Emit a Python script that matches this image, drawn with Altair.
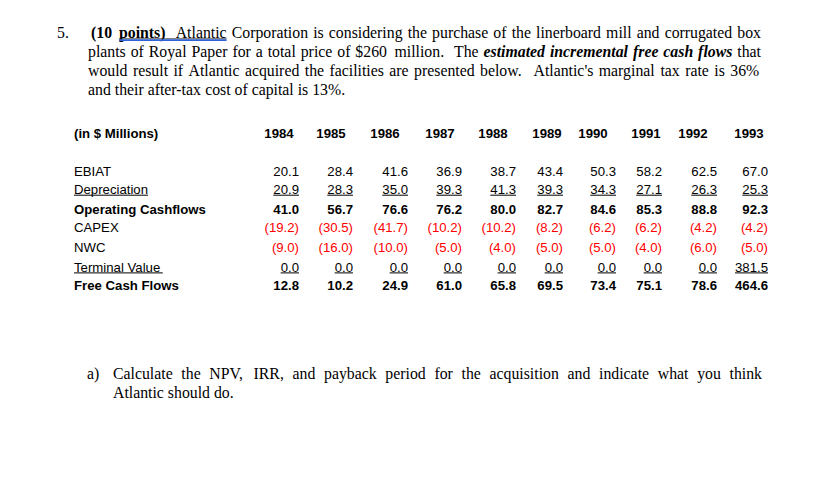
import altair as alt
import pandas as pd

# ---------------- data ----------------
years = ["1984", "1985", "1986", "1987", "1988", "1989", "1990", "1991", "1992", "1993"]
row_labels = ["EBIAT", "Depreciation", "Operating Cashflows", "CAPEX", "NWC",
              "Terminal Value", "Free Cash Flows"]
ebiat = [20.1, 28.4, 41.6, 36.9, 38.7, 43.4, 50.3, 58.2, 62.5, 67.0]
depreciation = [20.9, 28.3, 35.0, 39.3, 41.3, 39.3, 34.3, 27.1, 26.3, 25.3]
operating_cf = [41.0, 56.7, 76.6, 76.2, 80.0, 82.7, 84.6, 85.3, 88.8, 92.3]
capex = [-19.2, -30.5, -41.7, -10.2, -10.2, -8.2, -6.2, -6.2, -4.2, -4.2]
nwc = [-9.0, -16.0, -10.0, -5.0, -4.0, -5.0, -5.0, -4.0, -6.0, -5.0]
terminal_value = [0.0, 0.0, 0.0, 0.0, 0.0, 0.0, 0.0, 0.0, 0.0, 381.5]
free_cash_flows = [12.8, 10.2, 24.9, 61.0, 65.8, 69.5, 73.4, 75.1, 78.6, 464.6]
rows = [ebiat, depreciation, operating_cf, capex, nwc, terminal_value, free_cash_flows]
header_label = "(in $ Millions)"

question_number = "5."
para_lines = [
    [("b", "(10 points)"), ("r", " Atlantic Corporation is considering the purchase of the linerboard mill and corrugated box")],
    [("r", "plants of Royal Paper for a total price of $260 million.  The"),
     ("bi", "estimated incremental free cash flows"), ("r", "that")],
    [("r", "would result if Atlantic acquired the facilities are presented below.  Atlantic's marginal tax rate is 36%")],
    [("r", "and their after-tax cost of capital is 13%.")],
]
sub_label = "a)"
sub_lines = [
    "Calculate the NPV, IRR, and payback period for the acquisition and indicate what you think",
    "Atlantic should do.",
]

# ---------------- layout / style ----------------
W, H, OFF = 800, 486, 8
SERIF, SANS = "Liberation Serif", "Liberation Sans"
PSIZE, SSIZE, TSIZE = 15.8, 15.8, 13.2
para_x0, para_x1, para_first_x = 88, 761, 91
para_base = [38, 57, 76, 95]
num_x = 57
sub_x, sub_text_x, sub_x1 = 87, 113, 762
sub_base = [378.5, 397.5]
label_x = 74
header_base = 138.3
year_center = [279, 331, 385, 440, 493, 547, 593, 646, 693, 749]
col_right = [299, 353, 408, 462, 516, 563, 616, 662, 717, 768]
row_base = [176, 194, 214, 232.3, 251.7, 271.7, 290]
bold_rows = {2, 6}
underline_rows = {1, 5}
red_rows = {3, 4}
RED = "#ff0000"

TIMES_R = {' ': 250, '$': 500, '%': 833, "'": 180, '(': 333, ')': 333, ',': 250, '-': 333, '.': 250,
           'A': 722, 'B': 667, 'C': 667, 'D': 722, 'E': 611, 'F': 556, 'G': 722, 'H': 722, 'I': 333,
           'J': 389, 'K': 722, 'L': 611, 'M': 889, 'N': 722, 'O': 722, 'P': 556, 'Q': 722, 'R': 667,
           'S': 556, 'T': 611, 'U': 722, 'V': 722, 'W': 944, 'X': 722, 'Y': 722, 'Z': 611,
           'a': 444, 'b': 500, 'c': 444, 'd': 500, 'e': 444, 'f': 333, 'g': 500, 'h': 500, 'i': 278,
           'j': 278, 'k': 500, 'l': 278, 'm': 778, 'n': 500, 'o': 500, 'p': 500, 'q': 500, 'r': 333,
           's': 389, 't': 278, 'u': 500, 'v': 500, 'w': 722, 'x': 500, 'y': 500, 'z': 444}
TIMES_B = dict(TIMES_R, **{'a': 500, 'b': 556, 'd': 556, 'h': 556, 'k': 556, 'm': 833, 'n': 556,
                            'p': 556, 'q': 556, 'r': 444, 't': 333, 'u': 556})
TIMES_BI = dict(TIMES_R, **{'a': 500, 'h': 556, 'm': 778, 'n': 556, 'r': 389, 'u': 556, 'w': 667})
TABLES = {"r": TIMES_R, "b": TIMES_B, "bi": TIMES_BI}
ARIAL = {' ': 278, '.': 278, '(': 333, ')': 333, 'D': 722, 'T': 611, 'V': 667, 'a': 556, 'c': 500,
         'e': 556, 'i': 222, 'l': 222, 'm': 833, 'n': 556, 'o': 556, 'p': 556, 'r': 333, 't': 278, 'u': 556}


def tw(s, table, size):
    return sum(table.get(c, 556) for c in s) * size / 1000.0


def justify(segs, x0, x1, size, stretch=True):
    toks = []
    for style, text in segs:
        for w in text.split(' '):
            toks.append((w, style))
    widths = [tw(w, TABLES[s], size) for w, s in toks]
    n = len(toks) - 1
    gap = (x1 - x0 - sum(widths)) / n if (stretch and n > 0) else 250 * size / 1000.0
    out, x = [], x0
    for (w, s), wd in zip(toks, widths):
        if w:
            out.append((x, w, s, x + wd))
        x += wd + gap
    return out


def fmt(v):
    return f"({abs(v):.1f})" if v < 0 else f"{v:.1f}"


xs = alt.Scale(domain=[OFF, OFF + W], range=[0, W], nice=False, zero=False)
ys = alt.Scale(domain=[OFF, OFF + H], range=[0, H], nice=False, zero=False)


def text_layer(records, font, size, weight="normal", style="normal", color="black", align="left"):
    df = pd.DataFrame(records, columns=["x", "y", "t"])
    return alt.Chart(df).mark_text(font=font, fontSize=size, fontWeight=weight, fontStyle=style,
                                   color=color, align=align, baseline="alphabetic").encode(
        x=alt.X("x:Q", scale=xs, axis=None),
        y=alt.Y("y:Q", scale=ys, axis=None),
        text=alt.Text("t:N"))


def rule_layer(records, color="black", width=1.0):
    df = pd.DataFrame(records, columns=["x", "x2", "y"])
    return alt.Chart(df).mark_rule(color=color, strokeWidth=width).encode(
        x=alt.X("x:Q", scale=xs, axis=None), x2="x2:Q",
        y=alt.Y("y:Q", scale=ys, axis=None))


# paragraph text
serif = {"r": [], "b": [], "bi": []}
sub_serif = []
serif["r"].append((num_x, para_base[0], question_number))
squig = []
for i, segs in enumerate(para_lines):
    x0 = para_first_x if i == 0 else para_x0
    last = i == len(para_lines) - 1
    placed = justify(segs, x0, para_x1, PSIZE, stretch=not last)
    for x, w, s, xe in placed:
        serif[s].append((x, para_base[i], w))
    if i == 0:
        squig = [placed[1][0], placed[2][3]]  # from "points)" to "Atlantic"
sub_serif.append((sub_x, sub_base[0], sub_label))
for i, line in enumerate(sub_lines):
    last = i == len(sub_lines) - 1
    for x, w, s, xe in justify([("r", line)], sub_text_x, sub_x1, SSIZE, stretch=not last):
        sub_serif.append((x, sub_base[i], w))

layers = [
    text_layer(serif["r"], SERIF, PSIZE),
    text_layer(serif["b"], SERIF, PSIZE, weight="bold"),
    text_layer(serif["bi"], SERIF, PSIZE, weight="bold", style="italic"),
    text_layer(sub_serif, SERIF, SSIZE),
]

# underline + blue squiggle under "points)  Atlantic"
layers.append(rule_layer([(squig[0], squig[1], 38.8)], color="#222222", width=0.8))
layers.append(rule_layer([(squig[0], squig[1], 40.2)], color="#2f62d8", width=1.8))

# table header
hdr_bold = [(label_x, header_base, header_label)]
hdr_center = [(c, header_base, y) for c, y in zip(year_center, years)]
layers.append(text_layer(hdr_bold, SANS, TSIZE, weight="bold"))
layers.append(text_layer(hdr_center, SANS, TSIZE, weight="bold", align="center"))

lab_reg, lab_bold = [], []
val_reg, val_bold, val_red = [], [], []
ulines = []
for r, (lab, vals) in enumerate(zip(row_labels, rows)):
    yb = row_base[r]
    (lab_bold if r in bold_rows else lab_reg).append((label_x, yb, lab))
    if r in underline_rows:
        ulines.append((label_x, label_x + tw(lab, ARIAL, TSIZE), yb + 1.2))
    for c, v in enumerate(vals):
        s = fmt(v)
        tgt = val_bold if r in bold_rows else (val_red if r in red_rows else val_reg)
        tgt.append((col_right[c], yb, s))
        if r in underline_rows:
            ulines.append((col_right[c] - tw(s, ARIAL, TSIZE), col_right[c], yb + 1.2))

layers.append(text_layer(lab_reg, SANS, TSIZE))
layers.append(text_layer(lab_bold, SANS, TSIZE, weight="bold"))
layers.append(text_layer(val_reg, SANS, TSIZE, align="right"))
layers.append(text_layer(val_bold, SANS, TSIZE, weight="bold", align="right"))
layers.append(text_layer(val_red, SANS, TSIZE, color=RED, align="right"))
layers.append(rule_layer(ulines, color="black", width=1.0))

chart = alt.layer(*layers).properties(
    width=W, height=H, padding=0, background="white",
    autosize=alt.AutoSizeParams(type="none"),
).configure_view(stroke=None)

chart.save("out.html", embed_options={"renderer": "svg", "actions": False})
